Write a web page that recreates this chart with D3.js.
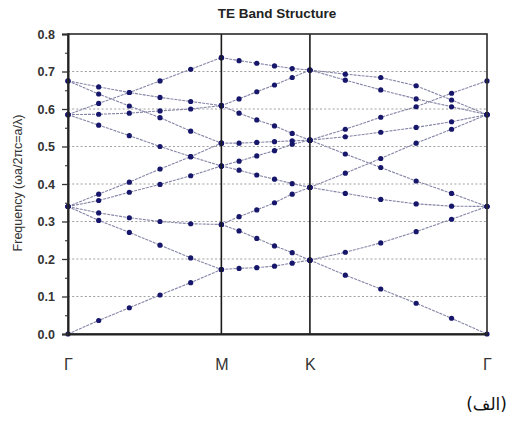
<!DOCTYPE html>
<html>
<head>
<meta charset="utf-8">
<script src="https://cdn.jsdelivr.net/npm/d3@7"></script>
<style>
  html, body { margin: 0; padding: 0; background: #fff; }
  svg { display: block; }
</style>
</head>
<body>
<svg id="chart" width="510" height="435"></svg>
<script>
// ---- data ----
const title = "TE Band Structure";
const yLabel = "Frequency (\u03c9a/2\u03c0c=a/\u03bb)";
const caption = "(الف)";
const symLabels = ["\u0393", "M", "K", "\u0393"];
const symPositions = [0, 0.5774, 0.9107, 1.5774];
const kPoints = [0, 0.1155, 0.2309, 0.3464, 0.4619, 0.5774,
                 0.6440, 0.7107, 0.7774, 0.8440, 0.9107,
                 1.0440, 1.1774, 1.3107, 1.4440, 1.5774];
const yTicks = [0, 0.1, 0.2, 0.3, 0.4, 0.5, 0.6, 0.7, 0.8];
const yMinorTicks = [0.05, 0.15, 0.25, 0.35, 0.45, 0.55, 0.65, 0.75];
const gridValues = [0.1, 0.2, 0.3, 0.4, 0.5, 0.6, 0.7];

// Γ → M branches (k indices 0..5)
const bandsGM = [
  [0, 0.036, 0.070, 0.104, 0.137, 0.172],
  [0.34, 0.303, 0.271, 0.237, 0.203, 0.172],
  [0.34, 0.323, 0.310, 0.300, 0.294, 0.292],
  [0.34, 0.356, 0.378, 0.399, 0.422, 0.448],
  [0.34, 0.373, 0.405, 0.440, 0.473, 0.509],
  [0.585, 0.557, 0.529, 0.500, 0.473, 0.448],
  [0.675, 0.640, 0.608, 0.577, 0.541, 0.509],
  [0.585, 0.586, 0.589, 0.595, 0.600, 0.609],
  [0.675, 0.659, 0.644, 0.631, 0.620, 0.609],
  [0.585, 0.615, 0.644, 0.675, 0.706, 0.737]
];
// M → K branches (k indices 5..10)
const bandsMK = [
  [0.172, 0.175, 0.177, 0.181, 0.189, 0.197],
  [0.292, 0.275, 0.255, 0.235, 0.217, 0.197],
  [0.292, 0.313, 0.331, 0.350, 0.373, 0.391],
  [0.448, 0.437, 0.424, 0.413, 0.401, 0.391],
  [0.448, 0.461, 0.475, 0.489, 0.506, 0.517],
  [0.509, 0.509, 0.511, 0.513, 0.515, 0.517],
  [0.609, 0.589, 0.571, 0.555, 0.535, 0.517],
  [0.609, 0.627, 0.646, 0.664, 0.684, 0.704],
  [0.737, 0.729, 0.722, 0.715, 0.708, 0.704]
];
// K → Γ branches (k indices 10..15)
const bandsKG = [
  [0.197, 0.157, 0.120, 0.082, 0.042, 0],
  [0.197, 0.218, 0.243, 0.273, 0.306, 0.34],
  [0.391, 0.375, 0.359, 0.347, 0.341, 0.34],
  [0.391, 0.429, 0.468, 0.509, 0.546, 0.585],
  [0.517, 0.480, 0.444, 0.408, 0.375, 0.34],
  [0.517, 0.526, 0.538, 0.551, 0.566, 0.585],
  [0.517, 0.546, 0.578, 0.606, 0.642, 0.675],
  [0.704, 0.693, 0.684, 0.662, 0.624, 0.585],
  [0.704, 0.677, 0.651, 0.627, 0.606, 0.585]
];

// ---- layout ----
const svg = d3.select("#chart");
const M = { left: 68, right: 23, top: 34, bottom: 101 };
const W = 510, H = 435;
const x = d3.scaleLinear().domain([0, d3.max(kPoints)]).range([M.left, W - M.right]);
const y = d3.scaleLinear().domain([0, 0.8]).range([H - M.bottom, M.top]);

// grid
svg.append("g").selectAll("line").data(gridValues).join("line")
  .attr("x1", x.range()[0]).attr("x2", x.range()[1])
  .attr("y1", d => y(d)).attr("y2", d => y(d))
  .attr("stroke", "#a0a0a0").attr("stroke-width", 1.2)
  .attr("stroke-dasharray", "2,2.2");

// band lines + points
const segments = [
  { bands: bandsGM, start: 0 },
  { bands: bandsMK, start: 5 },
  { bands: bandsKG, start: 10 }
];
const line = d3.line().x(d => x(d[0])).y(d => y(d[1]));
const lineG = svg.append("g");
const dotG = svg.append("g");
segments.forEach(seg => {
  seg.bands.forEach(b => {
    const pts = b.map((v, i) => [kPoints[seg.start + i], v]);
    lineG.append("path").attr("d", line(pts))
      .attr("fill", "none").attr("stroke", "#8585a8")
      .attr("stroke-width", 1.1).attr("stroke-dasharray", "3,1");
    dotG.selectAll(null).data(pts).join("circle")
      .attr("cx", d => x(d[0])).attr("cy", d => y(d[1]))
      .attr("r", 2.6).attr("fill", "#16166a");
  });
});

// symmetry lines M, K
svg.append("g").selectAll("line").data(symPositions.slice(1, 3)).join("line")
  .attr("x1", d => x(d)).attr("x2", d => x(d))
  .attr("y1", y(0)).attr("y2", y(0.8))
  .attr("stroke", "#1a1a1a").attr("stroke-width", 1.6);

// frame
svg.append("rect")
  .attr("x", x.range()[0]).attr("y", y(0.8))
  .attr("width", x.range()[1] - x.range()[0]).attr("height", y(0) - y(0.8))
  .attr("fill", "none").attr("stroke", "#2a2a2a").attr("stroke-width", 1.6);

// y axis
const yAxis = svg.append("g").attr("transform", `translate(${M.left},0)`)
  .call(d3.axisLeft(y).tickValues(yTicks).tickFormat(d3.format(".1f")).tickSize(6).tickPadding(7));
yAxis.select(".domain").attr("stroke", "#222").attr("stroke-width", 2);
yAxis.selectAll(".tick line").attr("stroke", "#333").attr("stroke-width", 1.3);
yAxis.selectAll("text").attr("font-family", "Liberation Sans, Arial, sans-serif")
  .attr("font-size", 12.5).attr("font-weight", "bold").attr("fill", "#333");
const yMinor = svg.append("g").attr("transform", `translate(${M.left},0)`)
  .call(d3.axisLeft(y).tickValues(yMinorTicks).tickFormat("").tickSize(3));
yMinor.select(".domain").remove();
yMinor.selectAll(".tick line").attr("stroke", "#333").attr("stroke-width", 1.1);

// x axis labels
const xAxis = svg.append("g").attr("transform", `translate(0,${y(0)})`)
  .call(d3.axisBottom(x).tickValues(symPositions).tickFormat((d, i) => symLabels[i]).tickSize(0).tickPadding(25));
xAxis.select(".domain").attr("stroke", "#222").attr("stroke-width", 2);
xAxis.selectAll("text").attr("font-family", "Liberation Sans, Arial, sans-serif")
  .attr("font-size", 16).attr("fill", "#333");

// title
svg.append("text").attr("x", 277).attr("y", 18).attr("text-anchor", "middle")
  .attr("font-family", "Liberation Sans, Arial, sans-serif")
  .attr("font-size", 13.5).attr("font-weight", "bold").attr("fill", "#222")
  .text(title);

// y label
svg.append("text").attr("transform", "translate(22,183) rotate(-90)")
  .attr("text-anchor", "middle")
  .attr("font-family", "Liberation Sans, Arial, sans-serif")
  .attr("font-size", 12.5).attr("fill", "#333")
  .text(yLabel);

// caption
svg.append("text").attr("x", 507).attr("y", 410).attr("text-anchor", "end")
  .attr("font-family", "DejaVu Sans, sans-serif")
  .attr("font-size", 17).attr("fill", "#111")
  .text(caption);
</script>
</body>
</html>
